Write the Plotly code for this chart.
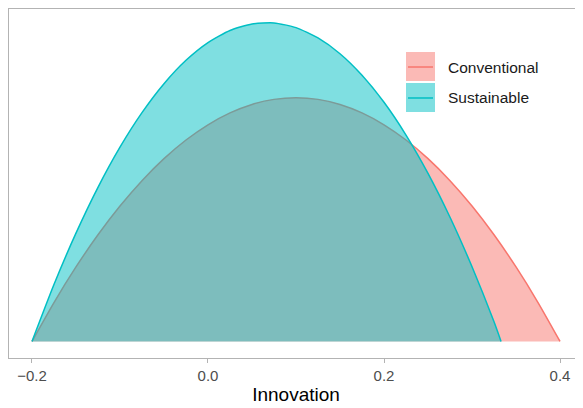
import plotly.graph_objects as go

# ---- data ----
conv_x = [-0.2, -0.175, -0.15, -0.125, -0.1, -0.075, -0.05, -0.025, 0.0, 0.025, 0.05, 0.075, 0.1,
          0.125, 0.15, 0.175, 0.2, 0.225, 0.25, 0.275, 0.3, 0.325, 0.35, 0.375, 0.4]
conv_y = [0.0, 0.399, 0.764, 1.094, 1.389, 1.649, 1.875, 2.066, 2.222, 2.344, 2.431, 2.483, 2.5,
          2.483, 2.431, 2.344, 2.222, 2.066, 1.875, 1.649, 1.389, 1.094, 0.764, 0.399, 0.0]

sust_x = [-0.2, -0.175, -0.15, -0.125, -0.1, -0.075, -0.05, -0.025, 0.0, 0.025, 0.05, 0.075, 0.1,
          0.125, 0.15, 0.175, 0.2, 0.225, 0.25, 0.275, 0.3, 0.325, 0.333]
sust_y = [0.0, 0.584, 1.111, 1.581, 1.993, 2.347, 2.644, 2.884, 3.066, 3.190, 3.257, 3.267, 3.219,
          3.113, 2.951, 2.730, 2.453, 2.117, 1.724, 1.274, 0.766, 0.201, 0.0]

series_names = ["Conventional", "Sustainable"]
tick_vals = [-0.2, 0.0, 0.2, 0.4]
tick_text = ["\u22120.2", "0.0", "0.2", "0.4"]
x_title = "Innovation"

# ---- styles ----
line_cols = ["#F8766D", "#00BFC4"]
fill_cols = ["rgba(248,118,109,0.5)", "rgba(0,191,196,0.5)"]
FONT = "Liberation Sans, Arial, Helvetica, sans-serif"

fig = go.Figure()
for name, xs, ys, lc, fc in zip(series_names, [conv_x, sust_x], [conv_y, sust_y], line_cols, fill_cols):
    fig.add_trace(go.Scatter(
        x=xs, y=ys, name=name, mode="lines", line=dict(color=lc, width=1.5, shape="spline", smoothing=0.6),
        fill="tozeroy", fillcolor=fc, showlegend=False, hoverinfo="x+y+name"))

# manual ggplot-style legend (key boxes with line + labels)
shapes = []
annotations = []
key_y = [(0.7937, 0.8768, 0.8338), (0.7049, 0.7880, 0.7450)]
for (y0, y1, ym), lc, fc, name in zip(key_y, line_cols, fill_cols, series_names):
    shapes.append(dict(type="rect", xref="paper", yref="paper", x0=0.6916, x1=0.7422, y0=y0, y1=y1,
                       fillcolor=fc, line=dict(width=0), layer="above"))
    shapes.append(dict(type="line", xref="paper", yref="paper", x0=0.6951, x1=0.7387, y0=ym, y1=ym,
                       line=dict(color=lc, width=1.5), layer="above"))
    annotations.append(dict(xref="paper", yref="paper", x=0.7613, y=ym, xanchor="left", yanchor="middle",
                            text=name, showarrow=False, font=dict(family=FONT, size=15.5, color="#1a1a1a")))

fig.update_layout(
    width=575, height=400,
    margin=dict(l=1, r=0, t=1, b=50, autoexpand=False),
    paper_bgcolor="white", plot_bgcolor="white",
    font=dict(family=FONT),
    shapes=shapes, annotations=annotations,
    showlegend=False,
)
fig.update_xaxes(
    range=[-0.2261, 0.4261], tickvals=tick_vals, ticktext=tick_text,
    showgrid=False, zeroline=False, automargin=False,
    showline=True, mirror=True, linecolor="#b3b3b3", linewidth=1,
    ticks="outside", ticklen=4, tickcolor="#b3b3b3", tickwidth=1,
    tickfont=dict(family=FONT, size=15, color="#4d4d4d"),
    title=dict(text=x_title, font=dict(family=FONT, size=19, color="#000000"), standoff=4),
)
fig.update_yaxes(
    range=[-0.17, 3.41], showticklabels=False, ticks="", showgrid=False, zeroline=False, automargin=False,
    showline=True, mirror=False, linecolor="#b3b3b3", linewidth=1,
)

fig.write_html("out.html")
